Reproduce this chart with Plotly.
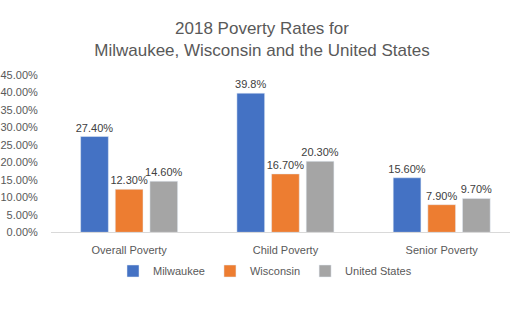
import plotly.graph_objects as go

categories = ["Overall Poverty", "Child Poverty", "Senior Poverty"]
series_names = ["Milwaukee", "Wisconsin", "United States"]
milwaukee = [0.274, 0.398, 0.156]
wisconsin = [0.123, 0.167, 0.079]
united_states = [0.146, 0.203, 0.097]
milwaukee_labels = ["27.40%", "39.8%", "15.60%"]
wisconsin_labels = ["12.30%", "16.70%", "7.90%"]
united_states_labels = ["14.60%", "20.30%", "9.70%"]
y_ticks = [i * 0.05 for i in range(10)]

colors = ["#4472C4", "#ED7D31", "#A5A5A5"]
values = [milwaukee, wisconsin, united_states]
labels = [milwaukee_labels, wisconsin_labels, united_states_labels]

W, H = 510, 331
L, R, T, B = 46, 0, 75, 95
font_family = "Liberation Sans, Arial, sans-serif"
text_grey = "#595959"

fig = go.Figure()
for name, vals, txt, col in zip(series_names, values, labels, colors):
    fig.add_trace(go.Bar(
        name=name, x=categories, y=vals, marker_color=col,
        text=txt, textposition="outside", constraintext="none",
        cliponaxis=False,
        textfont=dict(family=font_family, size=11, color="#404040"),
        hoverinfo="skip",
    ))

fig.update_layout(
    width=W, height=H,
    margin=dict(l=L, r=R, t=T, b=B, pad=0),
    paper_bgcolor="white", plot_bgcolor="white",
    barmode="group", bargap=0.335, bargroupgap=0.2,
    title=dict(
        text="2018 Poverty Rates for<br>Milwaukee, Wisconsin and the United States",
        x=262 / W, xref="container", xanchor="center",
        y=1 - 34 / H, yref="container", yanchor="middle",
        font=dict(family=font_family, size=17, color=text_grey),
    ),
    legend=dict(
        orientation="h", x=265 / W, xref="container", xanchor="center",
        y=1 - 271 / H, yref="container", yanchor="middle",
        font=dict(family=font_family, size=11, color=text_grey),
        itemwidth=30, traceorder="normal",
    ),
    xaxis=dict(
        range=[-0.5, 2.437], showgrid=False,
        showline=True, linecolor="#D9D9D9", linewidth=1,
        ticks="outside", ticklen=8, tickcolor="rgba(0,0,0,0)",
        tickfont=dict(family=font_family, size=11, color=text_grey),
        fixedrange=True,
    ),
    yaxis=dict(
        range=[0, 0.45], tickvals=y_ticks, tickformat=".2%",
        showgrid=False, zeroline=False, showline=False,
        ticks="outside", ticklen=10, tickcolor="rgba(0,0,0,0)",
        tickfont=dict(family=font_family, size=11, color=text_grey),
        fixedrange=True,
    ),
)

fig.write_html("out.html")
